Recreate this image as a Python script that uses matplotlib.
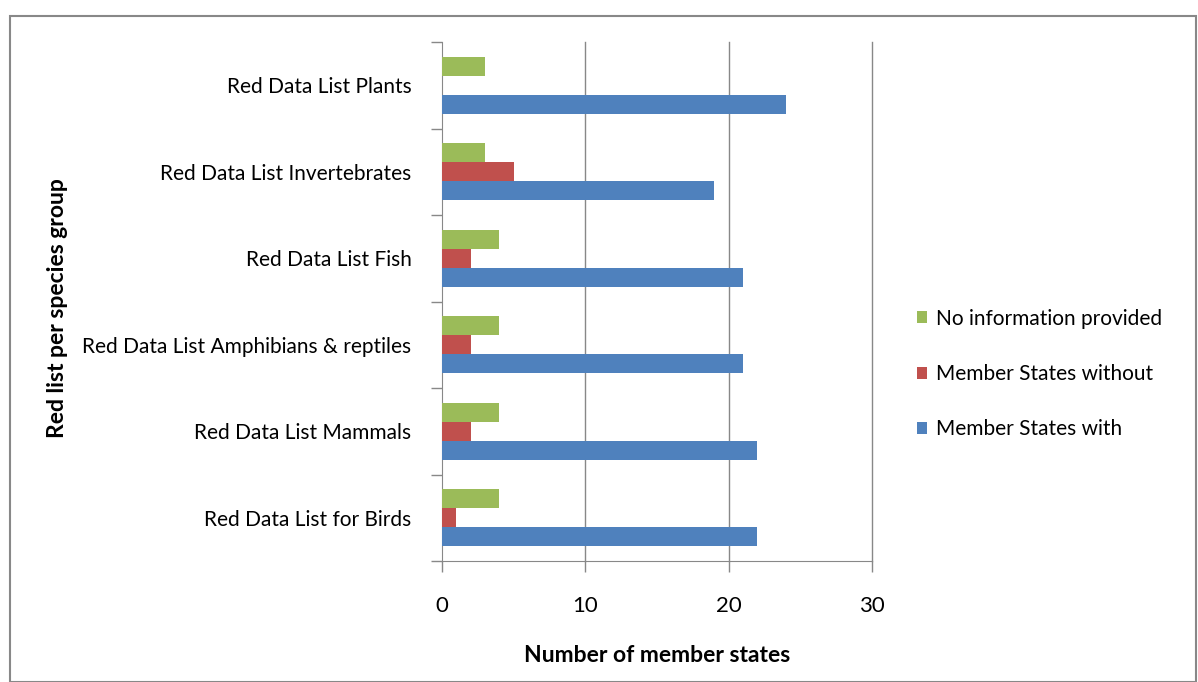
import matplotlib
matplotlib.use("Agg")
import matplotlib.pyplot as plt
from matplotlib.patches import Rectangle
import numpy as np

categories = ["Red Data List for Birds", "Red Data List Mammals",
              "Red Data List Amphibians & reptiles", "Red Data List Fish",
              "Red Data List Invertebrates", "Red Data List Plants"]
with_vals = [22, 22, 21, 21, 19, 24]
without_vals = [1, 2, 2, 2, 5, 0]
noinfo_vals = [4, 4, 4, 4, 3, 3]
series_names = ["Member States with", "Member States without", "No information provided"]
colors = ["#4F81BD", "#C0504D", "#9BBB59"]
xticks = [0, 10, 20, 30]

plt.rcParams['font.family'] = ['Lato', 'DejaVu Sans']

fig = plt.figure(figsize=(11.98, 6.82), dpi=100)
W, H = 1198, 682
ax = fig.add_axes([442 / W, 1 - 561 / H, (872 - 442) / W, (561 - 42) / H])

y = np.arange(len(categories))
h = 0.22
series = [with_vals, without_vals, noinfo_vals]
offsets = [-h, 0, h]
for vals, off, c, name in zip(series, offsets, colors, series_names):
    ax.barh(y + off, vals, height=h, color=c, label=name, zorder=3)

ax.set_xlim(0, 30)
ax.set_ylim(-0.5, len(categories) - 0.5)
ax.set_xticks(xticks)
ax.set_xticklabels([str(t) for t in xticks], fontsize=16)
ax.set_yticks(y)
ax.set_yticklabels(categories, fontsize=15)
ax.set_yticks(np.arange(-0.5, len(categories), 1), minor=True)
ax.tick_params(axis='y', which='major', length=0, pad=22)
ax.tick_params(axis='y', which='minor', length=8, color='#888888', width=1)
ax.tick_params(axis='x', length=8, color='#888888', width=1, pad=17)
for t in xticks[1:]:
    ax.axvline(t, color='#888888', linewidth=1, zorder=0, clip_on=False)
for s in ['top', 'right']:
    ax.spines[s].set_visible(False)
for s in ['left', 'bottom']:
    ax.spines[s].set_color('#888888')

ax.set_xlabel("Number of member states", fontsize=16.5, fontweight='bold', labelpad=21)
fig.text(57 / W, 1 - 308 / H, "Red list per species group", rotation=90,
         fontsize=16.5, fontweight='bold', ha='center', va='center')

handles, labels = ax.get_legend_handles_labels()
leg = fig.legend(handles[::-1], labels[::-1], loc='center left',
                 bbox_to_anchor=(898 / W, 1 - 374 / H), frameon=False,
                 fontsize=15, handlelength=0.5, handleheight=0.5,
                 handletextpad=0.4, labelspacing=1.7)

fig.patches.append(Rectangle((10 / W, 0), (1196 - 10) / W, 1 - 16 / H,
                             transform=fig.transFigure, fill=False,
                             edgecolor='#888888', linewidth=1.5))

fig.savefig("out.png", dpi=100)
